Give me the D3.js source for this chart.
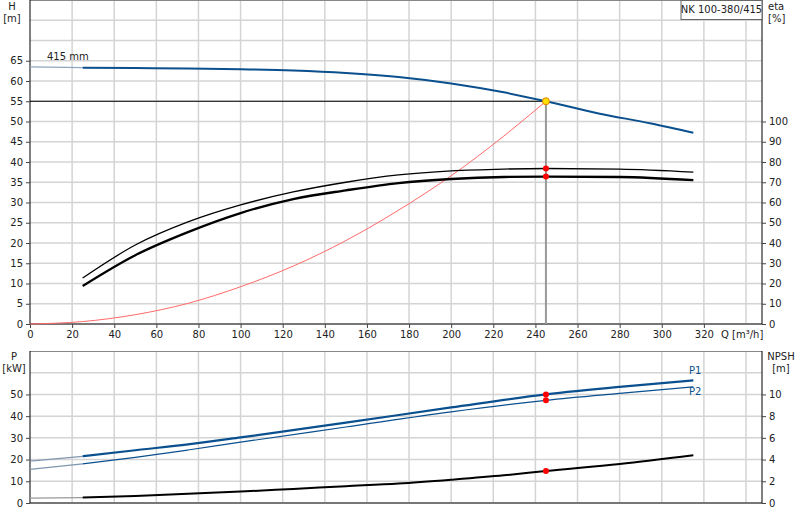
<!DOCTYPE html>
<html lang="en">
<head>
<meta charset="UTF-8">
<title>NK 100-380/415</title>
<script src="https://cdn.jsdelivr.net/npm/d3@7"></script>
<style>
  body { margin: 0; background: #fff; }
  text { font-family: "DejaVu Sans", Arial, sans-serif; font-size: 10px; fill: #222; }
</style>
</head>
<body>
<div id="container"></div>
<script>
  // Flow values (m³/h) used by all curves
  const qHead = [0, 25, 50, 75, 100, 125, 150, 175, 200, 225, 245, 270, 295, 315];
  const head = [63.5, 63.3, 63.2, 63.1, 62.9, 62.6, 62.0, 61.0, 59.4, 57.2, 55.0, 52.0, 49.5, 47.2];

  const qEta = [25, 50, 75, 100, 125, 150, 175, 200, 225, 245, 280, 315];
  const etaUpper = [22.7, 39, 50.4, 58.8, 65.2, 70, 73.6, 75.6, 76.5, 76.8, 76.5, 75];
  const etaLower = [18.8, 34, 45.4, 54.8, 61.7, 66, 69.6, 71.6, 72.6, 72.8, 72.6, 71];

  const qSys = [0, 25, 50, 75, 100, 125, 150, 175, 200, 225, 245];
  const sysHead = [0, 0.6, 2.3, 5.1, 9.2, 14.3, 20.6, 28.1, 36.6, 46.4, 55];

  const qPow = [0, 25, 50, 75, 100, 150, 200, 245, 280, 315];
  const p1 = [19.3, 21.5, 24.3, 27, 30.2, 37, 44, 50, 53.5, 56.5];
  const p2 = [15.5, 18, 21, 24.4, 28, 35, 42, 47.3, 50.5, 53.5];

  const qNpsh = [0, 25, 50, 75, 100, 125, 150, 175, 200, 225, 245, 280, 315];
  const npsh = [0.45, 0.5, 0.65, 0.85, 1.05, 1.3, 1.55, 1.8, 2.15, 2.55, 2.95, 3.6, 4.4];

  const dutyQ = 245, dutyH = 55;
  const dutyEta = [76.8, 72.8];
  const dutyP = [50, 47.3];
  const dutyNpsh = 2.95;

  const xTicks = d3.range(0, 321, 20);
  const hTicks = d3.range(0, 66, 5);
  const etaTicks = d3.range(0, 101, 10);
  const pTicks = d3.range(0, 51, 10);
  const npshTicks = d3.range(0, 11, 2);

  const blue = "#0a4f8e", red = "#ff0000", grid = "#d4d4d4";
  const left = 30, right = 762;

  const svg = d3.select("#container").append("svg")
    .attr("width", 800).attr("height", 520);

  const x = d3.scaleLinear().domain([0, 347.6]).range([left, right]);
  const yH = d3.scaleLinear().domain([0, 80]).range([324, 0]);
  const yEta = d3.scaleLinear().domain([0, 160]).range([324, 0]);
  const yP = d3.scaleLinear().domain([0, 70]).range([503, 351]);
  const yN = d3.scaleLinear().domain([0, 14]).range([503, 351]);

  const pts = (qs, vs) => qs.map((q, i) => [q, vs[i]]);
  const lineFor = y => d3.line().x(d => x(d[0])).y(d => y(d[1])).curve(d3.curveMonotoneX);

  function gridBox(top, bottom, yScale, yGrid) {
    const g = svg.append("g");
    g.selectAll(".vg").data(d3.range(20, 341, 20)).join("line")
      .attr("x1", d => x(d)).attr("x2", d => x(d))
      .attr("y1", top).attr("y2", bottom)
      .attr("stroke", grid).attr("stroke-width", 1.5);
    g.selectAll(".hg").data(yGrid).join("line")
      .attr("x1", left).attr("x2", right)
      .attr("y1", d => yScale(d)).attr("y2", d => yScale(d))
      .attr("stroke", grid).attr("stroke-width", 1.5);
    g.append("line").attr("x1", left).attr("x2", right).attr("y1", top + 0.5).attr("y2", top + 0.5)
      .attr("stroke", "#888");
    g.append("line").attr("x1", left).attr("x2", right).attr("y1", bottom).attr("y2", bottom)
      .attr("stroke", "#777").attr("stroke-width", 2);
    g.append("line").attr("x1", left).attr("x2", left).attr("y1", top).attr("y2", bottom)
      .attr("stroke", "#000");
    g.append("line").attr("x1", right).attr("x2", right).attr("y1", top).attr("y2", bottom)
      .attr("stroke", "#000");
  }

  // ---- top chart ----
  gridBox(0, 324, yH, d3.range(5, 80, 5));

  svg.append("g").attr("transform", `translate(${left},0)`)
    .call(d3.axisLeft(yH).tickValues(hTicks).tickSize(4).tickPadding(3))
    .call(g => g.select(".domain").remove());
  svg.append("g").attr("transform", `translate(${right},0)`)
    .call(d3.axisRight(yEta).tickValues(etaTicks).tickSize(4).tickPadding(3))
    .call(g => g.select(".domain").remove());
  svg.append("g").attr("transform", "translate(0,324)")
    .call(d3.axisBottom(x).tickValues(xTicks).tickSize(4).tickPadding(3))
    .call(g => g.select(".domain").remove());
  svg.selectAll(".tick text").style("font-size", "10px").attr("fill", "#222");
  svg.selectAll(".tick line").attr("stroke", "#444");

  svg.append("text").attr("x", 12).attr("y", 10).attr("text-anchor", "middle").text("H");
  svg.append("text").attr("x", 12).attr("y", 22).attr("text-anchor", "middle").text("[m]");
  svg.append("text").attr("x", 768).attr("y", 10).text("eta");
  svg.append("text").attr("x", 768).attr("y", 22).text("[%]");
  svg.append("text").attr("x", 721).attr("y", 338).text("Q [m³/h]");

  svg.append("rect").attr("x", 681).attr("y", 0.5).attr("width", 81).attr("height", 19)
    .attr("fill", "#fff").attr("stroke", "#666");
  svg.append("text").attr("x", 721.5).attr("y", 13).attr("text-anchor", "middle").text("NK 100-380/415");

  // duty reference lines
  svg.append("line").attr("x1", left).attr("x2", x(dutyQ)).attr("y1", yH(dutyH)).attr("y2", yH(dutyH))
    .attr("stroke", "#000");
  svg.append("line").attr("x1", x(dutyQ)).attr("x2", x(dutyQ)).attr("y1", yH(dutyH)).attr("y2", yH(0))
    .attr("stroke", "#999").attr("stroke-width", 2);

  // system curve
  svg.append("path").datum(pts(qSys, sysHead)).attr("d", lineFor(yH))
    .attr("fill", "none").attr("stroke", "#ff6a6a").attr("stroke-width", 1);

  // head curve
  const hp = pts(qHead, head);
  svg.append("path").datum(hp.slice(0, 2)).attr("d", lineFor(yH))
    .attr("fill", "none").attr("stroke", "#8fa6bf").attr("stroke-width", 1.2);
  svg.append("path").datum(hp.slice(1)).attr("d", lineFor(yH))
    .attr("fill", "none").attr("stroke", blue).attr("stroke-width", 2);
  svg.append("text").attr("x", 47).attr("y", yH(65.2)).text("415 mm");

  // efficiency curves
  svg.append("path").datum(pts(qEta, etaUpper)).attr("d", lineFor(yEta))
    .attr("fill", "none").attr("stroke", "#000").attr("stroke-width", 1.3);
  svg.append("path").datum(pts(qEta, etaLower)).attr("d", lineFor(yEta))
    .attr("fill", "none").attr("stroke", "#000").attr("stroke-width", 2.3);

  svg.selectAll(".etaDot").data(dutyEta).join("circle")
    .attr("cx", x(dutyQ)).attr("cy", d => yEta(d)).attr("r", 3).attr("fill", red);
  svg.append("circle").attr("cx", x(dutyQ)).attr("cy", yH(dutyH)).attr("r", 3.5)
    .attr("fill", "#ffe000").attr("stroke", "#e08000");

  // ---- bottom chart ----
  gridBox(351, 503, yP, d3.range(10, 70, 10));

  svg.append("g").attr("transform", `translate(${left},0)`)
    .call(d3.axisLeft(yP).tickValues(pTicks).tickSize(4).tickPadding(3))
    .call(g => g.select(".domain").remove());
  svg.append("g").attr("transform", `translate(${right},0)`)
    .call(d3.axisRight(yN).tickValues(npshTicks).tickSize(4).tickPadding(3))
    .call(g => g.select(".domain").remove());
  svg.selectAll(".tick text").style("font-size", "10px").attr("fill", "#222");
  svg.selectAll(".tick line").attr("stroke", "#444");

  svg.append("text").attr("x", 14).attr("y", 360).attr("text-anchor", "middle").text("P");
  svg.append("text").attr("x", 14).attr("y", 372).attr("text-anchor", "middle").text("[kW]");
  svg.append("text").attr("x", 781).attr("y", 360).attr("text-anchor", "middle").text("NPSH");
  svg.append("text").attr("x", 781).attr("y", 372).attr("text-anchor", "middle").text("[m]");

  function split(qs, vs, yScale, color, width) {
    const p = pts(qs, vs);
    svg.append("path").datum(p.slice(0, 2)).attr("d", lineFor(yScale))
      .attr("fill", "none").attr("stroke", color === "#000" ? "#999" : "#7f96b0").attr("stroke-width", 1.2);
    svg.append("path").datum(p.slice(1)).attr("d", lineFor(yScale))
      .attr("fill", "none").attr("stroke", color).attr("stroke-width", width);
  }
  split(qPow, p1, yP, blue, 2.2);
  split(qPow, p2, yP, blue, 1.2);
  split(qNpsh, npsh, yN, "#000", 2);

  svg.append("text").attr("x", 689).attr("y", 374).attr("fill", blue).style("fill", blue).text("P1");
  svg.append("text").attr("x", 689).attr("y", 395).style("fill", blue).text("P2");

  svg.selectAll(".pDot").data(dutyP).join("circle")
    .attr("cx", x(dutyQ)).attr("cy", d => yP(d)).attr("r", 3).attr("fill", red);
  svg.append("circle").attr("cx", x(dutyQ)).attr("cy", yN(dutyNpsh)).attr("r", 3).attr("fill", red);
</script>
</body>
</html>
